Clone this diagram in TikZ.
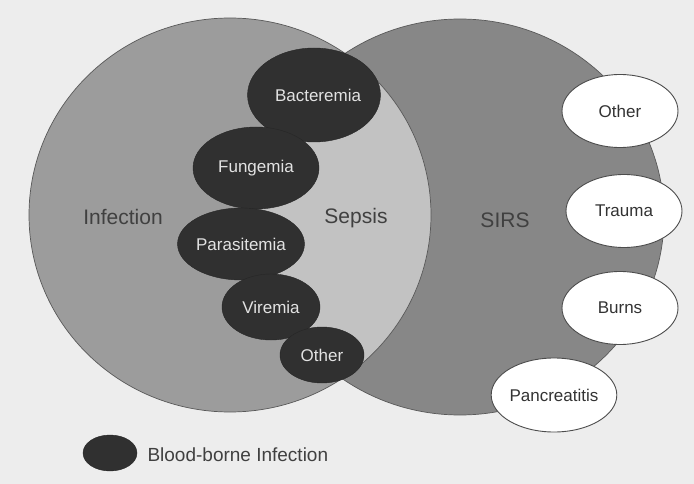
\documentclass[tikz,border=0pt]{standalone}
\usepackage{fontspec}
\setmainfont{Liberation Sans}
\usetikzlibrary{shapes.geometric}
\definecolor{paper}{HTML}{EDEDED}
\definecolor{infgray}{HTML}{9C9C9C}
\definecolor{sirsgray}{HTML}{878787}
\definecolor{sepgray}{HTML}{C2C2C2}
\definecolor{blobgray}{HTML}{303030}
\definecolor{blobtext}{HTML}{E2E2E2}
\definecolor{labelgray}{HTML}{404040}

\begin{document}
\begin{tikzpicture}[
			x=1pt,y=-1pt,
			blob/.style={
				ellipse,
				draw=black!85,
				fill=blobgray,
				text=blobtext,
				inner sep=0pt,
				font=\fontsize{17}{20}\selectfont
			},
			cause/.style={
				ellipse,
				draw=black!70,
				line width=0.9pt,
				fill=white,
				text=black!80,
				inner sep=0pt,
				minimum width=116pt,
				minimum height=73pt,
				font=\fontsize{17}{20}\selectfont
			},
			setlabel/.style={text=labelgray,font=\fontsize{21}{25}\selectfont},
			rim/.style={draw=black!65,line width=0.7pt}
			]
			
			\fill[paper] (0,0) rectangle (694,484);
			\useasboundingbox (0,0) rectangle (694,484);
			
			\fill[infgray] (230,215) ellipse [x radius=201, y radius=197];
			\fill[sirsgray] (460,217) ellipse [x radius=204, y radius=198];
			\begin{scope}
				\clip (230,215) ellipse [x radius=201, y radius=197];
				\fill[sepgray] (460,217) ellipse [x radius=204, y radius=198];
			\end{scope}
			\draw[rim] (230,215) ellipse [x radius=201, y radius=197];
			\draw[rim] (460,217) ellipse [x radius=204, y radius=198];
			
			\node[setlabel] (inf) at (123,217) {Infection};
			\node[setlabel] (sep) at (356,218) {Sepsis};
			\node[setlabel] (sirs) at (505,220) {SIRS};
			
			\node[blob,minimum width=130pt,minimum height=94pt] (bact) at (314,95) {\hspace*{8pt}Bacteremia};
			\node[blob,minimum width=126pt,minimum height=82pt] (fung) at (256,168) {Fungemia};
			\node[blob,minimum width=114pt,minimum height=72pt] (para) at (241,244) {Parasitemia};
			\node[blob,minimum width=98pt,minimum height=66pt] (vir) at (271,307) {Viremia};
			\node[blob,minimum width=84pt,minimum height=56pt] (bother) at (322,355) {Other};
			
			\node[cause] (sother) at (620,111) {Other};
			\node[cause] (trauma) at (624,211) {Trauma};
			\node[cause] (burns) at (620,308) {Burns};
			\node[cause,minimum width=112pt,minimum height=74pt] (panc) at (554,395) {Pancreatitis};
			
			\node[blob,minimum width=54pt,minimum height=36pt] (key) at (110,453) {};
			\node[anchor=west,text=labelgray,font=\fontsize{19}{22}\selectfont] (keytext) at (144,455) {Blood-borne Infection};
			
		\end{tikzpicture}
\end{document}
